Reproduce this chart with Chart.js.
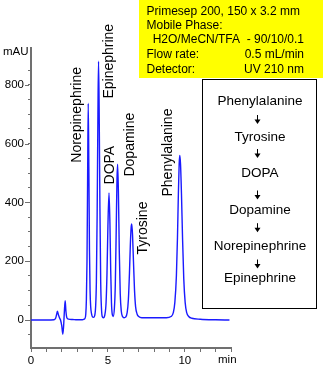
<!DOCTYPE html>
<html>
<head>
<meta charset="utf-8">
<script src="https://cdn.jsdelivr.net/npm/chart.js@4.4.0/dist/chart.umd.min.js"></script>
<style>
  html, body { margin: 0; padding: 0; background: #fff; }
  canvas { display: block; }
</style>
</head>
<body>
<canvas id="chart" width="325" height="368"></canvas>
<script>
// retention time (min) and absorbance (mAU)
const times = [
  0, 1.0, 1.5, 1.6, 1.67, 1.72, 1.78, 1.85, 1.92, 2.0, 2.07, 2.12, 2.17, 2.22, 2.27, 2.33, 2.45, 2.7, 3.0, 3.3,
  3.4, 3.5, 3.56, 3.6, 3.64, 3.68, 3.72, 3.76, 3.8, 3.84, 3.88, 3.94, 4.0,
  4.06, 4.14, 4.2, 4.25, 4.3, 4.35, 4.39, 4.43, 4.48, 4.53, 4.58, 4.63,
  4.7, 4.8, 4.88, 4.94, 5.0, 5.07, 5.13, 5.18, 5.23, 5.28,
  5.34, 5.42, 5.48, 5.54, 5.59, 5.63, 5.68, 5.74, 5.8, 5.87, 5.95, 6.05,
  6.15, 6.25, 6.33, 6.4, 6.46, 6.51, 6.55, 6.6, 6.66, 6.73, 6.8, 6.9, 7.0, 7.2,
  8.8, 9.1, 9.25, 9.35, 9.45, 9.52, 9.58, 9.63, 9.67, 9.72, 9.78, 9.85, 9.93, 10.02, 10.12, 10.25, 10.45,
  11.0, 12.0, 12.9
];
const absorbance = [
  0, 0, 1, 6, 20, 30, 18, 8, 0, -20, -48, -20, 30, 66, 30, 8, 3, 2, 1, 1,
  2, 5, 20, 70, 200, 480, 737, 520, 240, 100, 45, 20, 10,
  9, 15, 45, 130, 360, 700, 880, 720, 380, 130, 40, 12,
  8, 18, 60, 160, 320, 432, 330, 170, 60, 20,
  12, 40, 120, 310, 480, 530, 440, 230, 90, 30, 12, 8,
  10, 25, 70, 160, 260, 315, 327, 290, 200, 100, 45, 20, 12, 8,
  8, 12, 25, 60, 150, 280, 430, 530, 560, 530, 430, 280, 140, 60, 25, 12, 6,
  3, 1, 0
];

// peak names, the time column they sit in and the mAU level where each starts
const peakNames = ['Norepinephrine', 'Epinephrine', 'DOPA', 'Dopamine', 'Tyrosine', 'Phenylalanine'];
const labelTimes = [2.98, 5.10, 5.13, 6.47, 7.28, 8.91];
const labelLevels = [535, 753, 461, 488, 223, 420];

// chromatographic conditions
const conditionLabels = ['Primesep 200, 150 x 3.2 mm', 'Mobile Phase:', 'H2O/MeCN/TFA', 'Flow rate:', 'Detector:'];
const conditionValues = ['', '', '- 90/10/0.1', '0.5 mL/min', 'UV 210 nm'];

// biosynthesis pathway shown in the box
const pathway = ['Phenylalanine', 'Tyrosine', 'DOPA', 'Dopamine', 'Norepinephrine', 'Epinephrine'];

const FONT = '"Liberation Sans", Arial, sans-serif';
const axisColor = '#707070';

const annotations = {
  id: 'annotations',
  afterDraw(chart) {
    const { ctx, scales: { x, y } } = chart;
    ctx.save();

    // longer marks for the labelled y ticks
    ctx.strokeStyle = axisColor;
    ctx.lineWidth = 1;
    y.ticks.filter(t => t.value % 200 === 0).forEach(t => {
      const py = Math.round(y.getPixelForValue(t.value)) + 0.5;
      ctx.beginPath();
      ctx.moveTo(x.left - 6, py);
      ctx.lineTo(x.left - 2, py);
      ctx.stroke();
    });

    ctx.fillStyle = '#000';
    ctx.textBaseline = 'middle';

    // axis units
    ctx.font = '11.5px ' + FONT;
    ctx.textAlign = 'left';
    ctx.fillText('mAU', 3, 52);
    ctx.fillText('min', 218, 360);

    // peak names, written upwards
    ctx.font = '14px ' + FONT;
    peakNames.forEach((name, i) => {
      ctx.save();
      ctx.translate(x.getPixelForValue(labelTimes[i]), y.getPixelForValue(labelLevels[i]));
      ctx.rotate(-Math.PI / 2);
      ctx.fillText(name, 0, 0);
      ctx.restore();
    });

    // conditions panel
    ctx.fillStyle = '#ffff00';
    ctx.fillRect(139, 0, 184, 78);
    ctx.fillStyle = '#000';
    ctx.font = '12px ' + FONT;
    const rowY = [11.7, 25.7, 40, 54.3, 69.3];
    conditionLabels.forEach((txt, i) => {
      ctx.textAlign = 'left';
      ctx.fillText(txt, i === 2 ? 152.7 : 146.5, rowY[i]);
      if (conditionValues[i]) {
        ctx.textAlign = 'right';
        ctx.fillText(conditionValues[i], 304, rowY[i]);
      }
    });

    // pathway box
    ctx.fillStyle = '#fff';
    ctx.fillRect(202.5, 79.5, 114, 229);
    ctx.strokeStyle = '#000';
    ctx.lineWidth = 1;
    ctx.strokeRect(202.5, 79.5, 114, 229);
    ctx.fillStyle = '#000';
    ctx.font = '13.5px ' + FONT;
    ctx.textAlign = 'center';
    const nameY = [101, 137, 173.3, 210, 246.7, 278.3];
    const arrowY = [119.5, 153.5, 195, 227.7, 264];
    pathway.forEach((name, i) => ctx.fillText(name, 260, nameY[i]));
    arrowY.forEach(ay => {
      ctx.beginPath();
      ctx.moveTo(257.5, ay - 4.5);
      ctx.lineTo(257.5, ay + 1);
      ctx.stroke();
      ctx.beginPath();
      ctx.moveTo(254.5, ay);
      ctx.lineTo(260.5, ay);
      ctx.lineTo(257.5, ay + 4.5);
      ctx.closePath();
      ctx.fill();
    });
    ctx.restore();
  }
};

new Chart(document.getElementById('chart'), {
  type: 'line',
  data: {
    datasets: [{
      data: times.map((t, i) => ({ x: t, y: absorbance[i] })),
      borderColor: '#1a1aff',
      borderWidth: 1.4,
      pointRadius: 0,
      cubicInterpolationMode: 'monotone',
      fill: false,
    }],
  },
  options: {
    responsive: false,
    animation: false,
    layout: { padding: { top: 48, right: 94, bottom: 0, left: 0 } },
    plugins: { legend: { display: false }, tooltip: { enabled: false } },
    scales: {
      x: {
        type: 'linear',
        min: 0,
        max: 13,
        afterFit: (scale) => { scale.height = 20; },
        afterBuildTicks: (scale) => { scale.ticks = scale.ticks.filter(t => Number.isInteger(t.value)); },
        ticks: {
          stepSize: 1,
          autoSkip: false,
          maxRotation: 0,
          padding: 2,
          color: '#000',
          font: { family: FONT, size: 11.5 },
          callback: (v) => (v % 5 === 0 ? v : ''),
        },
        grid: { drawOnChartArea: false, tickLength: 4, color: axisColor },
        border: { color: axisColor, width: 2 },
      },
      y: {
        type: 'linear',
        min: -95,
        max: 925,
        afterFit: (scale) => { scale.width = 31; },
        afterBuildTicks: (scale) => { scale.ticks = scale.ticks.filter(t => t.value % 50 === 0); },
        ticks: {
          stepSize: 50,
          autoSkip: false,
          padding: 4,
          color: '#000',
          font: { family: FONT, size: 11.5 },
          callback: (v) => (v % 200 === 0 ? v : ''),
        },
        grid: { drawOnChartArea: false, tickLength: 3, color: axisColor },
        border: { color: axisColor, width: 2 },
      },
    },
  },
  plugins: [annotations],
});
</script>
</body>
</html>
